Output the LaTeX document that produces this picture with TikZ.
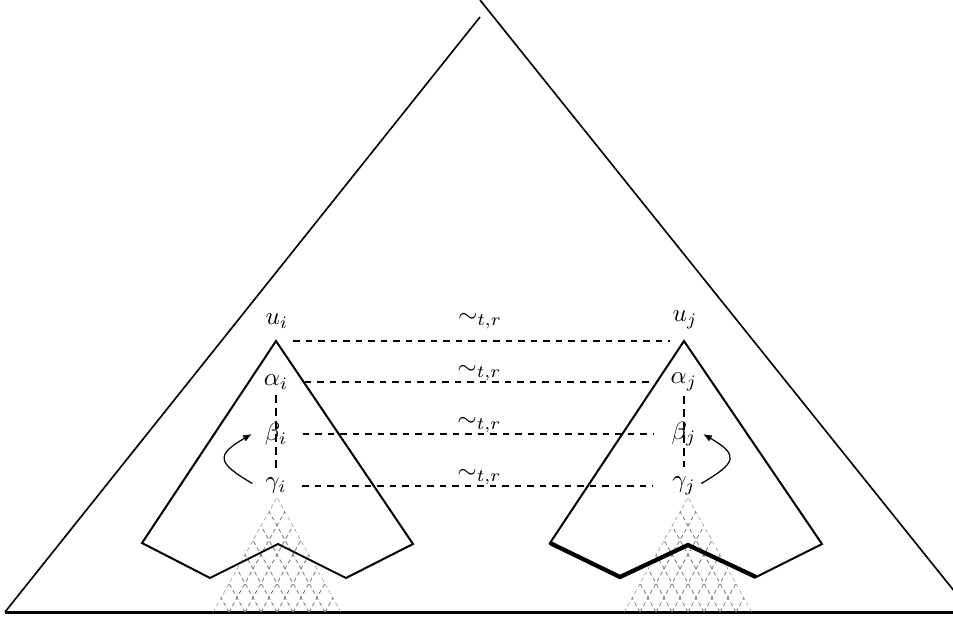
\documentclass[tikz,border=0pt]{standalone}
\usetikzlibrary{arrows.meta,calc}
\begin{document}
\begin{tikzpicture}[x=0.4pt,y=-0.4pt,
  edge/.style={line width=0.65pt},
  baseline/.style={line width=1.2pt},
  cone/.style={line width=0.8pt,line join=miter},
  rim/.style={line width=1.7pt,line join=miter},
  hatchline/.style={gray,line width=0.35pt,dash pattern=on 1.6pt off 1.2pt},
  lbl/.style={inner sep=0pt},
  hdash/.style={line width=0.45pt,dash pattern=on 2.6pt off 2.4pt},
  vdash/.style={line width=1pt,dash pattern=on 3.2pt off 2pt},
  curvarrow/.style={line width=0.5pt,-{Latex[length=3.5pt,width=2.8pt]}}
]
\clip (0,0) rectangle (953,619);
% big triangle
\draw[edge] (5,612) -- (480,17);
\draw[edge] (480,0) -- (971,612);
\draw[baseline] (5,612) -- (953,612);
% hatched cones
\begin{scope}
  \clip (213,612) -- (277,497) -- (341,612) -- cycle;
  \foreach \k in {0,...,8} {
    \draw[hatchline] ($(213,612)+(\k*16,0)$) -- ++(128,-230);
    \draw[hatchline] ($(213,612)+(\k*16,0)$) -- ++(-128,-230);
  }
\end{scope}
\begin{scope}
  \clip (624,612) -- (688,497) -- (752,612) -- cycle;
  \foreach \k in {0,...,8} {
    \draw[hatchline] ($(624,612)+(\k*16,0)$) -- ++(128,-230);
    \draw[hatchline] ($(624,612)+(\k*16,0)$) -- ++(-128,-230);
  }
\end{scope}
% pentagons
\coordinate (pi) at (276,341);
\coordinate (pj) at (684,341);
\draw[cone] (pi) -- (413,544) -- (346,578) -- (278,544) -- (210,578) -- (142,543) -- cycle;
\draw[cone] (pj) -- (822,544) -- (756,577) -- (688,545) -- (620,577) -- (550,543) -- cycle;
\draw[rim] (550,543) -- (620,577) -- (688,545) -- (756,577);
% labels
\node[lbl] (ui) at (277,321) {$u_i$};
\node[lbl] (uj) at (685,320) {$u_j$};
\node[lbl] (ai) at (276,382) {$\alpha_i$};
\node[lbl] (bi) at (276,434) {$\beta_i$};
\node[lbl] (gi) at (276,486) {$\gamma_i$};
\node[lbl] (aj) at (684,382) {$\alpha_j$};
\node[lbl] (bj) at (684,434) {$\beta_j$};
\node[lbl] (gj) at (684,486) {$\gamma_j$};
% horizontal relations
\draw[hdash,shorten <=6.8pt,shorten >=5.6pt] (pi) -- (pj)
  node[midway,yshift=8pt] {$\sim_{t,r}$};
\draw[hdash,shorten <=6.5pt,shorten >=7pt] (ai) -- (aj)
  node[midway,yshift=3.6pt] {$\sim_{t,r}$};
\draw[hdash,shorten <=6pt,shorten >=7pt] (bi) -- (bj)
  node[midway,yshift=3.6pt] {$\sim_{t,r}$};
\draw[hdash,shorten <=6pt,shorten >=7.5pt] (gi) -- (gj)
  node[midway,yshift=3.6pt] {$\sim_{t,r}$};
% vertical paths
\draw[vdash,shorten <=2pt,shorten >=4pt] (ai) -- (gi);
\draw[vdash,shorten <=2pt,shorten >=4pt] (aj) -- (gj);
% curved arrows
\draw[curvarrow] ([xshift=-5pt,yshift=1pt]gi.west) .. controls +(-36,-21) and +(-36,21) .. ([xshift=-5pt]bi.west);
\draw[curvarrow] ([xshift=2pt,yshift=1pt]gj.east) .. controls +(36,-21) and +(36,21) .. ([xshift=2.5pt]bj.east);
\end{tikzpicture}
\end{document}
